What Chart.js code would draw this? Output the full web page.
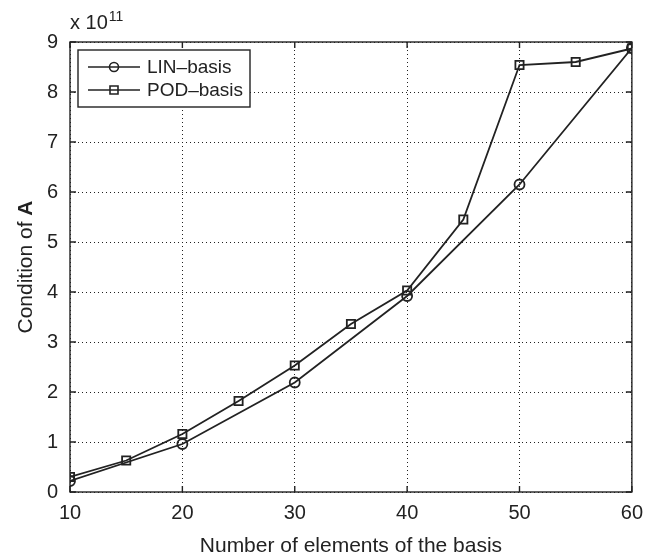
<!DOCTYPE html>
<html>
<head>
<meta charset="utf-8">
<script src="https://cdn.jsdelivr.net/npm/chart.js@4"></script>
<style>
  html, body { margin: 0; padding: 0; background: #fff; }
  #wrap { width: 652px; height: 557px; }
</style>
</head>
<body>
<div id="wrap"><canvas id="condChart" width="652" height="557"></canvas></div>
<script>
// values in units of 1e11
const linX = [10, 20, 30, 40, 50, 60];
const linY = [0.22, 0.96, 2.19, 3.92, 6.15, 8.88];
const podX = [10, 15, 20, 25, 30, 35, 40, 45, 50, 55, 60];
const podY = [0.3, 0.63, 1.16, 1.82, 2.53, 3.36, 4.03, 5.45, 8.54, 8.6, 8.87];
const xTicks = [10, 20, 30, 40, 50, 60];
const yTicks = [0, 1, 2, 3, 4, 5, 6, 7, 8, 9];

const FONT = 'Liberation Sans, Arial, sans-serif';
const INK = '#222';

function toPoints(xs, ys) {
    return xs.map((x, i) => ({ x: x, y: ys[i] }));
}

// frame, inward ticks, titles, exponent and legend, MATLAB style
const decorations = {
    id: 'decorations',
    afterDraw(chart) {
        const ctx = chart.ctx;
        const a = chart.chartArea;
        const xs = chart.scales.x, ys = chart.scales.y;
        ctx.save();
        ctx.strokeStyle = INK;
        ctx.lineWidth = 1.4;
        ctx.strokeRect(a.left, a.top, a.right - a.left, a.bottom - a.top);
        ctx.beginPath();
        xTicks.forEach(v => {
            const px = xs.getPixelForValue(v);
            ctx.moveTo(px, a.bottom); ctx.lineTo(px, a.bottom - 6);
            ctx.moveTo(px, a.top); ctx.lineTo(px, a.top + 6);
        });
        yTicks.forEach(v => {
            const py = ys.getPixelForValue(v);
            ctx.moveTo(a.left, py); ctx.lineTo(a.left + 6, py);
            ctx.moveTo(a.right, py); ctx.lineTo(a.right - 6, py);
        });
        ctx.stroke();

        ctx.fillStyle = INK;
        // exponent
        ctx.font = '20px ' + FONT;
        ctx.textBaseline = 'alphabetic';
        ctx.textAlign = 'left';
        ctx.fillText('x 10', 70, 29);
        const w = ctx.measureText('x 10').width;
        ctx.font = '14px ' + FONT;
        ctx.fillText('11', 70 + w + 1, 21);

        // x title
        ctx.font = '21px ' + FONT;
        ctx.textAlign = 'center';
        ctx.fillText('Number of elements of the basis', (a.left + a.right) / 2, 552);

        // y title with bold A
        ctx.save();
        ctx.translate(32, (a.top + a.bottom) / 2);
        ctx.rotate(-Math.PI / 2);
        ctx.font = '21px ' + FONT;
        const t1 = 'Condition of ';
        const w1 = ctx.measureText(t1).width;
        ctx.font = 'bold 21px ' + FONT;
        const w2 = ctx.measureText('A').width;
        ctx.textAlign = 'left';
        ctx.font = '21px ' + FONT;
        ctx.fillText(t1, -(w1 + w2) / 2, 0);
        ctx.font = 'bold 21px ' + FONT;
        ctx.fillText('A', -(w1 + w2) / 2 + w1, 0);
        ctx.restore();

        // legend
        const lx = 78, ly = 50, lw = 172, lh = 57;
        ctx.fillStyle = '#fff';
        ctx.fillRect(lx, ly, lw, lh);
        ctx.strokeStyle = INK;
        ctx.lineWidth = 1.4;
        ctx.strokeRect(lx, ly, lw, lh);
        const rows = [{ label: 'LIN\u2013basis', y: ly + 17, mark: 'circle' },
                      { label: 'POD\u2013basis', y: ly + 40, mark: 'rect' }];
        rows.forEach(r => {
            ctx.lineWidth = 1.6;
            ctx.beginPath();
            ctx.moveTo(lx + 10, r.y); ctx.lineTo(lx + 62, r.y);
            ctx.stroke();
            ctx.beginPath();
            if (r.mark === 'circle') {
                ctx.arc(lx + 36, r.y, 4.5, 0, Math.PI * 2);
            } else {
                ctx.rect(lx + 32, r.y - 4, 8, 8);
            }
            ctx.stroke();
            ctx.fillStyle = INK;
            ctx.font = '19px ' + FONT;
            ctx.textAlign = 'left';
            ctx.textBaseline = 'middle';
            ctx.fillText(r.label, lx + 69, r.y + 1);
        });
        ctx.restore();
    }
};

new Chart(document.getElementById('condChart'), {
    type: 'scatter',
    data: {
        datasets: [
            {
                label: 'LIN-basis',
                data: toPoints(linX, linY),
                showLine: true,
                borderColor: INK,
                borderWidth: 1.8,
                pointStyle: 'circle',
                pointRadius: 5,
                pointBorderWidth: 1.8,
                pointBackgroundColor: 'rgba(0,0,0,0)',
                pointBorderColor: INK
            },
            {
                label: 'POD-basis',
                data: toPoints(podX, podY),
                showLine: true,
                borderColor: INK,
                borderWidth: 1.8,
                pointStyle: 'rect',
                pointRadius: 5.8,
                pointBorderWidth: 1.8,
                pointBackgroundColor: 'rgba(0,0,0,0)',
                pointBorderColor: INK
            }
        ]
    },
    options: {
        responsive: false,
        animation: false,
        layout: { padding: { left: 0, right: 15, top: 42, bottom: 0 } },
        plugins: {
            legend: { display: false },
            tooltip: { enabled: false }
        },
        scales: {
            x: {
                type: 'linear',
                min: 10,
                max: 60,
                afterFit(scale) { scale.height = 65; },
                afterBuildTicks(scale) { scale.ticks = xTicks.map(v => ({ value: v })); },
                grid: { color: INK, lineWidth: 1, drawTicks: false },
                border: { display: false, dash: [1, 3] },
                ticks: { padding: 9, color: INK, font: { family: FONT, size: 20 } }
            },
            y: {
                min: 0,
                max: 9,
                afterFit(scale) { scale.width = 70; },
                afterBuildTicks(scale) { scale.ticks = yTicks.map(v => ({ value: v })); },
                grid: { color: INK, lineWidth: 1, drawTicks: false },
                border: { display: false, dash: [1, 3] },
                ticks: { padding: 12, color: INK, font: { family: FONT, size: 20 } }
            }
        }
    },
    plugins: [decorations]
});
</script>
</body>
</html>
